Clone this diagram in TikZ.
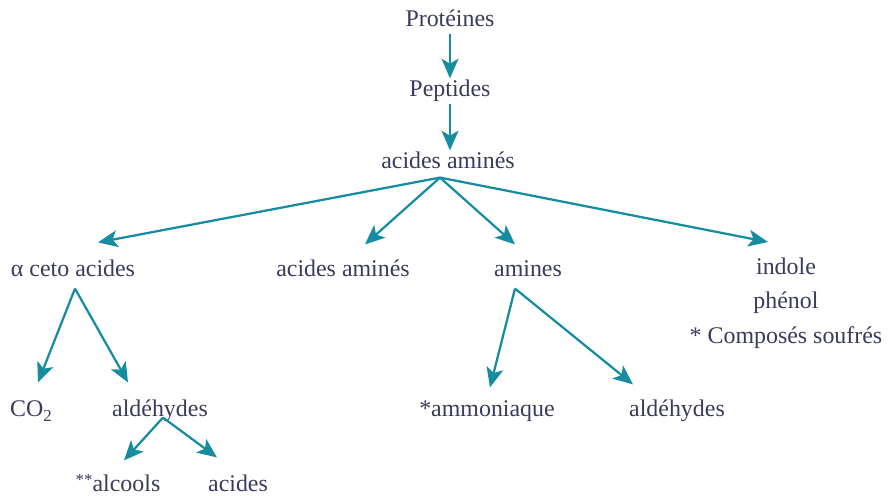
\documentclass[tikz,border=0pt]{standalone}
\usepackage{fontspec}
\setmainfont{Liberation Serif}
\usepackage{xcolor}
\usepackage{tikz}
\usetikzlibrary{calc, arrows.meta}

\definecolor{encre}{RGB}{58,58,92}
\definecolor{sarcelle}{RGB}{22,140,160}

\begin{document}
\begin{tikzpicture}[x=0.025cm, y=-0.025cm,
        fl/.style={-{Stealth[length=14pt, width=12pt, inset=3.5pt]}, line width=1.6pt, draw=sarcelle},
        txt/.style={text=encre, font=\fontsize{17}{24.5}\selectfont, inner sep=1pt},
        mot/.style={txt, text height=12pt, text depth=3.5pt}]
                % 1. Cadre
                \useasboundingbox (0,0) rectangle (890,495);
                
                % 2. Les composés
                \node[mot] (prot) at (450,21) {Protéines};
                \node[mot] (pept) at (450,91) {Peptides};
                \node[mot] (aa1) at (448,163) {acides aminés};
                \node[mot] (ceto) at (73,271) {α ceto acides};
                \node[mot] (aa2) at (343,271) {acides aminés};
                \node[mot] (amin) at (528,271) {amines};
                \node[txt, align=center, anchor=north] (ind) at (786,256)
                    {indole\\phénol\\* Composés soufrés};
                \node[mot] (co) at (31,411) {CO\raisebox{-0.45ex}{\fontsize{12}{12}\selectfont 2}};
                \node[mot] (aldA) at (160,411) {aldéhydes};
                \node[mot] (ammo) at (487,411) {*ammoniaque};
                \node[mot] (aldB) at (677,411) {aldéhydes};
                \node[mot] (alc) at (118,486) {\raisebox{0.6ex}{\fontsize{12}{12}\selectfont **}alcools};
                \node[mot] (acid) at (238,486) {acides};
                
                % 3. Points de départ
                \coordinate (fan) at ($(aa1.south)+(-8,2)$);
                \coordinate (pCeto) at ($(ceto.south)+(2,5)$);
                \coordinate (pAmin) at ($(amin.south)+(-13,5)$);
                \coordinate (pAld) at ($(aldA.south)+(3,-6)$);
                
                % 4. Flèches
                \draw[fl] (prot) -- (pept);
                \draw[fl] (pept) -- (pept |- aa1.north);
                \foreach \cible/\dx/\dy in {ceto/25/-16, aa2/22/-14, amin/-13/-14, ind/-18/-14} {
                    \draw[fl] (fan) -- ($(\cible.north)+(\dx,\dy)$);
                }
                \foreach \cible/\dx/\dy in {co/7/-16, aldA/-32/-16} {
                    \draw[fl] (pCeto) -- ($(\cible.north)+(\dx,\dy)$);
                }
                \foreach \cible/\dx/\dy in {ammo/3/-11, aldB/-44/-14} {
                    \draw[fl] (pAmin) -- ($(\cible.north)+(\dx,\dy)$);
                }
                \foreach \cible/\dx/\dy in {alc/6/-13, acid/-21/-16} {
                    \draw[fl] (pAld) -- ($(\cible.north)+(\dx,\dy)$);
                }
            \end{tikzpicture}
\end{document}
